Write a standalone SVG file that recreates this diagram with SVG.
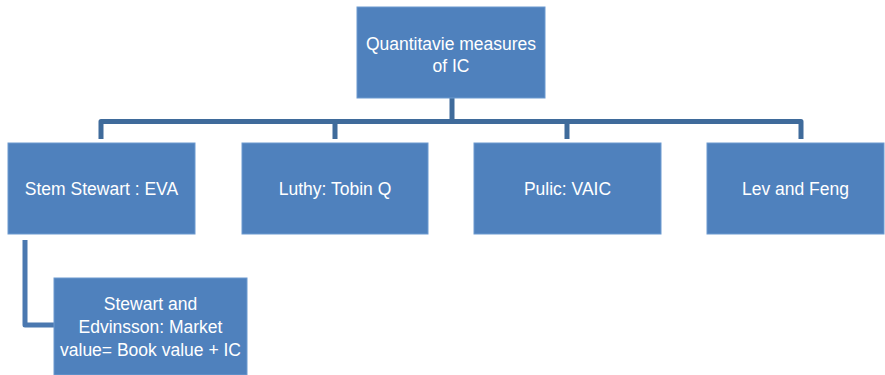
<svg xmlns="http://www.w3.org/2000/svg" width="885" height="375" viewBox="0 0 885 375">
<style>
.box{fill:#4f81bd;stroke:#6d9ad0;stroke-width:1}
.t{font-family:"Liberation Sans",Arial,sans-serif;font-size:17.5px;fill:#ffffff;text-anchor:middle}
.c{fill:none;stroke:#3f6b9b;stroke-width:5;stroke-linejoin:round}
.c2{fill:none;stroke:#4a78b0;stroke-width:5;stroke-linejoin:round}
</style>
<rect width="885" height="375" fill="#ffffff"/>
<g id="connectors">
<path class="c" d="M452,98 V121.5 M101,139 V121.5 H801 V139 M335,121.5 V139 M567,121.5 V139"/>
<path class="c2" d="M25,240 V325 H54"/>
</g>
<g id="top">
<rect class="box" x="357" y="7" width="188" height="91"/>
<text class="t" x="451" y="50">Quantitavie measures</text>
<text class="t" x="451" y="72">of IC</text>
</g>
<g id="eva">
<rect class="box" x="8" y="143" width="187" height="91"/>
<text class="t" x="101.5" y="195">Stem Stewart : EVA</text>
</g>
<g id="tobin">
<rect class="box" x="242" y="143" width="186" height="91"/>
<text class="t" x="335" y="195">Luthy: Tobin Q</text>
</g>
<g id="vaic">
<rect class="box" x="474" y="143" width="187" height="91"/>
<text class="t" x="567.5" y="195">Pulic: VAIC</text>
</g>
<g id="levfeng">
<rect class="box" x="707" y="143" width="177" height="91"/>
<text class="t" x="795.5" y="195">Lev and Feng</text>
</g>
<g id="market">
<rect class="box" x="54" y="278" width="193" height="97"/>
<text class="t" x="150.5" y="310">Stewart and</text>
<text class="t" x="150.5" y="333">Edvinsson: Market</text>
<text class="t" x="150.5" y="356">value= Book value + IC</text>
</g>
</svg>
